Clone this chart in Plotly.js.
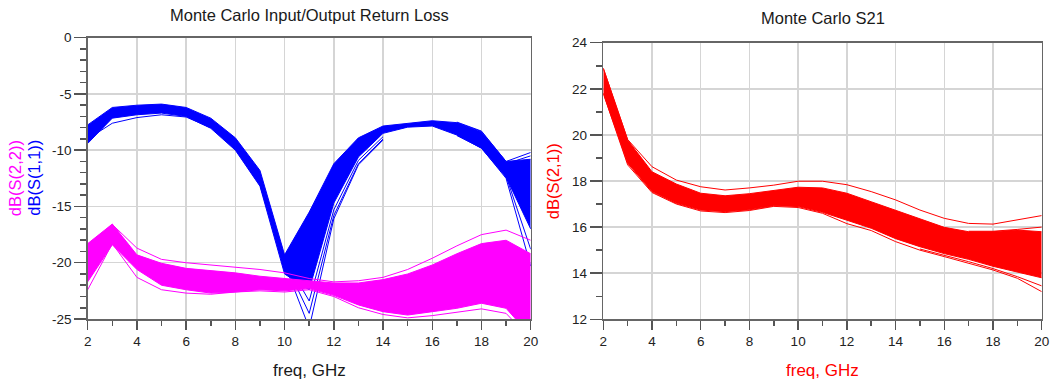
<!DOCTYPE html>
<html>
<head>
<meta charset="utf-8">
<script src="https://cdn.plot.ly/plotly-3.0.1.min.js"></script>
<style>html,body{margin:0;padding:0;background:#fff;}#chart{width:1052px;height:383px;}</style>
</head>
<body>
<div id="chart"></div>
<script>
// ---------- data ----------
const freq = [2,3,4,5,6,7,8,9,10,11,12,13,14,15,16,17,18,19,20];

// S11 Monte Carlo envelope (blue)
const s11Upper = [-7.75,-6.2,-6.0,-5.9,-6.2,-7.15,-8.9,-11.8,-19.3,-15.5,-11.2,-8.9,-7.85,-7.6,-7.38,-7.55,-8.35,-11.0,-10.8];
const s11Lower = [-9.4,-7.15,-6.85,-6.7,-7.0,-8.05,-10.0,-13.2,-21.0,-22.4,-14.7,-10.6,-8.5,-7.95,-7.85,-8.65,-9.83,-12.4,-17.0];
// S11 individual outlier runs
const s11EarlyF = [2,3,4,5,6,7];
const s11Early  = [-9.0,-7.6,-7.1,-6.85,-7.05,-8.0];
const s11DipF = [9,10,11,12,13,14];
const s11DipA = [-12.8,-19.6,-23.4,-15.3,-10.9,-8.8];
const s11DipB = [-13.0,-19.9,-24.5,-15.8,-11.2,-9.0];
const s11DipC = [-13.1,-20.1,-25.8,-16.1,-11.3,-9.1];
const s11TailF = [17,18,19,20];
const s11TailA = [-7.5,-8.3,-11.0,-10.2];
const s11TailB = [-7.6,-8.5,-11.2,-10.5];
const s11TailC = [-8.6,-9.7,-12.3,-18.8];
const s11TailD = [-8.7,-9.8,-12.5,-20.3];

// S22 Monte Carlo envelope (magenta)
const s22Upper = [-18.3,-16.56,-19.3,-20.05,-20.5,-20.7,-20.9,-21.2,-21.4,-21.6,-21.8,-21.8,-21.5,-21.0,-20.2,-19.2,-18.3,-18.0,-19.2];
const s22Lower = [-21.7,-18.4,-20.6,-22.0,-22.4,-22.7,-22.6,-22.4,-22.5,-22.3,-22.9,-23.75,-24.35,-24.65,-24.35,-24.05,-23.6,-24.05,-26.5];
const s22High  = [-18.6,-16.6,-18.7,-19.7,-20.0,-20.2,-20.4,-20.6,-20.9,-21.4,-21.7,-21.6,-21.3,-20.6,-19.6,-18.5,-17.5,-17.1,-18.0];
const s22Low   = [-22.4,-18.3,-21.3,-22.4,-22.7,-22.8,-22.6,-22.5,-22.6,-22.4,-23.0,-24.0,-24.6,-24.9,-24.7,-24.4,-24.1,-24.5,-26.8];

// S21 Monte Carlo envelope (red)
const s21Upper = [22.89,19.78,18.4,17.87,17.47,17.36,17.45,17.58,17.73,17.7,17.47,17.1,16.74,16.38,15.99,15.8,15.8,15.87,15.8];
const s21Lower = [21.8,18.77,17.54,17.03,16.74,16.67,16.75,16.93,16.89,16.64,16.3,15.95,15.5,15.15,14.85,14.6,14.3,14.05,13.8];
const s21High  = [22.89,19.8,18.62,18.04,17.75,17.61,17.7,17.82,17.99,17.99,17.84,17.54,17.18,16.74,16.38,16.16,16.13,16.31,16.5];
const s21Low   = [21.8,18.7,17.5,17.0,16.7,16.63,16.72,16.9,16.85,16.6,16.15,15.85,15.37,15.0,14.72,14.43,14.14,13.78,13.2];
const s21MidF = [17,18,19,20];
const s21Mid  = [15.82,15.82,15.9,16.0];
const s21Low2F = [15,16,17,18,19,20];
const s21Low2  = [15.05,14.78,14.5,14.2,13.85,13.45];

// tick labels
const xTicks = [2,4,6,8,10,12,14,16,18,20];
const yLeftTicks = [0,-5,-10,-15,-20,-25];
const yLeftText = ['0','-5','-10','-15','-20','-25'];
const yRightTicks = [12,14,16,18,20,22,24];

// ---------- styling ----------
const BLUE = '#0000ff', MAG = '#ff00ff', RED = '#ff0000';
const FONT = 'Liberation Sans, Arial, sans-serif';

function band(lo, hi, col, xa, ya) {
  return [
    {x: freq, y: lo, type:'scatter', mode:'lines', line:{color:col, width:1}, xaxis:xa, yaxis:ya, hoverinfo:'skip'},
    {x: freq, y: hi, type:'scatter', mode:'lines', line:{color:col, width:1}, fill:'tonexty', fillcolor:col, xaxis:xa, yaxis:ya, hoverinfo:'skip'}
  ];
}
function line(xs, ys, col, xa, ya) {
  return {x: xs, y: ys, type:'scatter', mode:'lines', line:{color:col, width:1}, xaxis:xa, yaxis:ya, hoverinfo:'skip'};
}

const traces = [].concat(
  band(s11Lower, s11Upper, BLUE, 'x', 'y'),
  [line(s11EarlyF, s11Early, BLUE, 'x', 'y'),
   line(s11DipF, s11DipA, BLUE, 'x', 'y'),
   line(s11DipF, s11DipB, BLUE, 'x', 'y'),
   line(s11DipF, s11DipC, BLUE, 'x', 'y'),
   line(s11TailF, s11TailA, BLUE, 'x', 'y'),
   line(s11TailF, s11TailB, BLUE, 'x', 'y'),
   line(s11TailF, s11TailC, BLUE, 'x', 'y'),
   line(s11TailF, s11TailD, BLUE, 'x', 'y')],
  band(s22Lower, s22Upper, MAG, 'x', 'y'),
  [line(freq, s22High, MAG, 'x', 'y'),
   line(freq, s22Low, MAG, 'x', 'y')],
  band(s21Lower, s21Upper, RED, 'x2', 'y2'),
  [line(freq, s21High, RED, 'x2', 'y2'),
   line(freq, s21Low, RED, 'x2', 'y2'),
   line(s21MidF, s21Mid, RED, 'x2', 'y2'),
   line(s21Low2F, s21Low2, RED, 'x2', 'y2')]
);

const W = 1052, H = 383;
const px = v => v / W;
const py = v => 1 - v / H;

function xAxis(dom, anchor) {
  return {
    domain: dom, anchor: anchor, range: [2, 20],
    tickmode: 'array', tickvals: xTicks,
    ticks: 'outside', ticklen: 9, tickwidth: 1.5, tickcolor: '#555',
    minor: {tickmode:'linear', tick0: 2, dtick: 1, ticks:'outside', ticklen: 5, tickwidth: 1.5, tickcolor: '#555', showgrid: false},
    showgrid: true, gridcolor: '#d5d5d5', gridwidth: 1.5,
    showline: true, linecolor: '#666', linewidth: 1.5, mirror: true,
    zeroline: false, tickfont: {family: FONT, size: 13.5, color: '#222'}, fixedrange: true
  };
}
function yAxis(dom, anchor, range, vals, text, minorTick0) {
  const a = {
    domain: dom, anchor: anchor, range: range,
    tickmode: 'array', tickvals: vals,
    ticks: 'outside', ticklen: 12, tickwidth: 1.5, tickcolor: '#555',
    minor: {tickmode:'linear', tick0: minorTick0, dtick: 1, ticks:'outside', ticklen: 6, tickwidth: 1.5, tickcolor: '#555', showgrid: false},
    showgrid: true, gridcolor: '#d5d5d5', gridwidth: 1.5,
    showline: true, linecolor: '#666', linewidth: 1.5, mirror: true,
    zeroline: false, tickfont: {family: FONT, size: 13.5, color: '#222'}, fixedrange: true
  };
  if (text) a.ticktext = text;
  return a;
}

const layout = {
  width: W, height: H,
  margin: {l: 0, r: 0, t: 0, b: 0},
  paper_bgcolor: '#fff', plot_bgcolor: '#fff',
  showlegend: false,
  font: {family: FONT, color: '#222'},
  xaxis: xAxis([px(87.7), px(530.7)], 'y'),
  yaxis: yAxis([py(319), py(37.7)], 'x', [-25, 0], yLeftTicks, yLeftText, 0),
  xaxis2: xAxis([px(603.3), px(1041.7)], 'y2'),
  yaxis2: yAxis([py(319.3), py(42.7)], 'x2', [12, 24], yRightTicks, null, 12),
  annotations: [
    {text: 'Monte Carlo Input/Output Return Loss', x: px(309), y: py(14.5), xref:'paper', yref:'paper', xanchor:'center', yanchor:'middle', showarrow:false, font:{family:FONT, size:16.5, color:'#1a1a1a'}},
    {text: 'Monte Carlo S21', x: px(822.5), y: py(18.3), xref:'paper', yref:'paper', xanchor:'center', yanchor:'middle', showarrow:false, font:{family:FONT, size:16.5, color:'#1a1a1a'}},
    {text: 'freq, GHz', x: px(309), y: py(370), xref:'paper', yref:'paper', xanchor:'center', yanchor:'middle', showarrow:false, font:{family:FONT, size:17, color:'#1a1a1a'}},
    {text: 'freq, GHz', x: px(822.5), y: py(370), xref:'paper', yref:'paper', xanchor:'center', yanchor:'middle', showarrow:false, font:{family:FONT, size:17, color:RED}},
    {text: 'dB(S(2,2))', x: px(15.2), y: py(178), xref:'paper', yref:'paper', xanchor:'center', yanchor:'middle', textangle:-90, showarrow:false, font:{family:FONT, size:16.5, color:MAG}},
    {text: 'dB(S(1,1))', x: px(33.8), y: py(178), xref:'paper', yref:'paper', xanchor:'center', yanchor:'middle', textangle:-90, showarrow:false, font:{family:FONT, size:16.5, color:BLUE}},
    {text: 'dB(S(2,1))', x: px(553.3), y: py(181), xref:'paper', yref:'paper', xanchor:'center', yanchor:'middle', textangle:-90, showarrow:false, font:{family:FONT, size:16.5, color:RED}}
  ]
};

Plotly.newPlot('chart', traces, layout, {staticPlot: true, displayModeBar: false});
</script>
</body>
</html>
